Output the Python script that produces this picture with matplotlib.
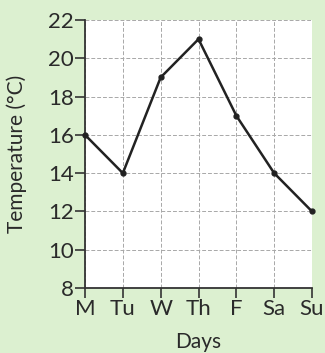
import matplotlib.pyplot as plt

# Daily temperatures for one week
days = ['M', 'Tu', 'W', 'Th', 'F', 'Sa', 'Su']
temps = [16, 14, 19, 21, 17, 14, 12]
yticks = [8, 10, 12, 14, 16, 18, 20, 22]

plt.rcParams['font.family'] = ['Lato', 'DejaVu Sans']
bg = '#dcf0d0'

fig = plt.figure(figsize=(3.25, 3.53), dpi=100, facecolor=bg)
ax = fig.add_axes([85 / 325, 1 - 288 / 353, 227 / 325, 268 / 353])
ax.set_facecolor('white')

x = list(range(len(days)))
ax.plot(x, temps, color='#222222', lw=1.8, marker='o', ms=3.5, zorder=3,
        clip_on=False)

ax.set_xlim(0, len(days) - 1)
ax.set_ylim(8, 22)
ax.set_xticks(x)
ax.set_xticklabels(days)
ax.set_yticks(yticks)

ax.grid(True, color='#a8a8a8', lw=0.7, ls=(0, (4, 2)))
ax.set_axisbelow(True)

for side in ['top', 'right']:
    ax.spines[side].set_visible(False)
for side in ['left', 'bottom']:
    ax.spines[side].set_color('#333333')
    ax.spines[side].set_linewidth(1.3)

ax.tick_params(axis='both', labelsize=16, colors='#333333', length=7,
               width=1.2, pad=1, labelcolor='#2a2a2a')
ax.tick_params(axis='x', pad=1)

ax.set_ylabel('Temperature (°C)', fontsize=15, color='#2a2a2a', labelpad=15)
ax.set_xlabel('Days', fontsize=15, color='#2a2a2a', labelpad=9)

fig.savefig('out.png', dpi=100, facecolor=bg)
